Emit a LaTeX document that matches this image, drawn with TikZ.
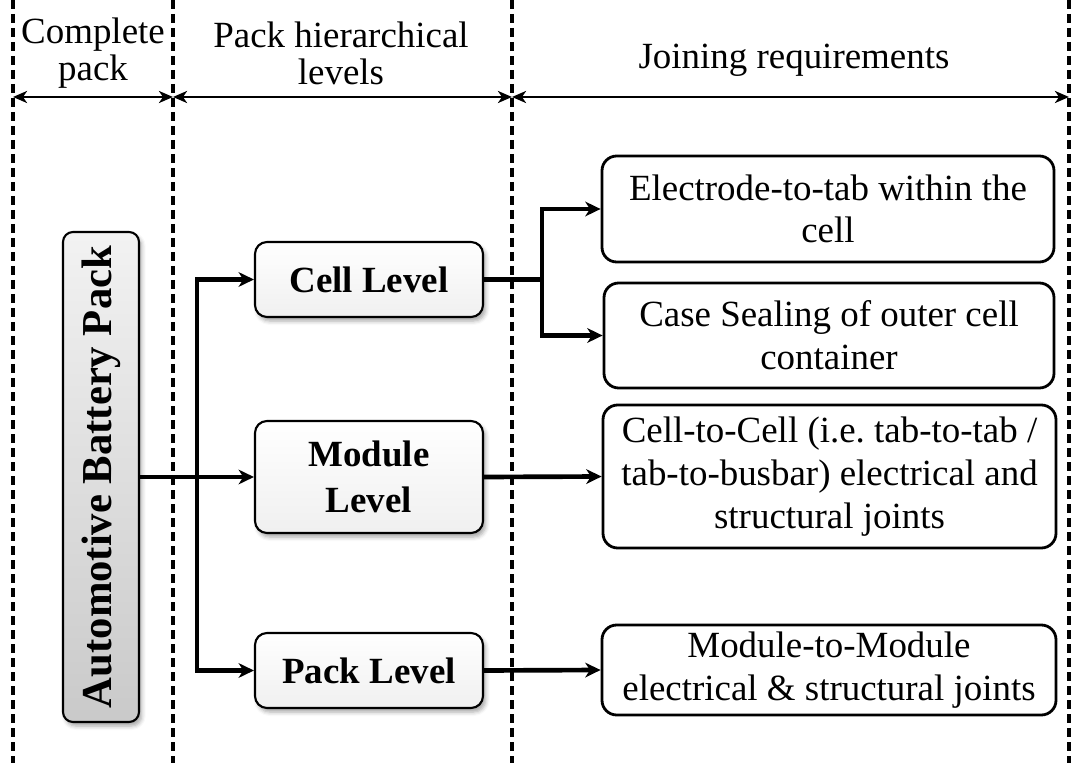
\documentclass[tikz,border=0pt]{standalone}
\usepackage{fontspec}
\setmainfont{Liberation Serif}
\usetikzlibrary{arrows.meta,shadows.blur}
\begin{document}
\begin{tikzpicture}[x=0.75pt,y=-0.75pt,
  sep/.style={line width=2.6pt, dash pattern=on 7pt off 3.5pt},
  hdr/.style={line width=1.9pt, {Stealth[length=10.5pt,width=9pt,inset=3pt]}-{Stealth[length=10.5pt,width=9pt,inset=3pt]}},
  hdrtext/.style={font=\fontsize{27.7}{27.7}\selectfont, align=center, inner sep=0pt},
  conn/.style={line width=3.5pt, -{Stealth[length=11.5pt,width=11pt,inset=3.5pt]}},
  trunk/.style={line width=3.5pt},
  myshadow/.style={blur shadow={shadow xshift=2pt, shadow yshift=-3pt, shadow blur radius=3pt, shadow opacity=35}},
  packbox/.style={draw, line width=1.6pt, rounded corners=7.5pt, top color=gray!10, bottom color=gray!42, minimum width=57pt, minimum height=367.5pt, inner sep=0pt, myshadow},
  levelbox/.style={draw, line width=1.6pt, rounded corners=9pt, top color=white, bottom color=gray!12, minimum width=171pt, inner sep=0pt, align=center, font=\bfseries\fontsize{27.7}{34}\selectfont, myshadow},
  reqbox/.style={draw, line width=2.1pt, rounded corners=11pt, fill=white, inner sep=0pt, align=center, font=\fontsize{27.7}{32}\selectfont},
]
\useasboundingbox (0,0) rectangle (1076,763);
% separators
\coordinate (s1t) at (13,0);   \coordinate (s1b) at (13,763);
\coordinate (s2t) at (173,0);  \coordinate (s2b) at (173,763);
\coordinate (s3t) at (512,0);  \coordinate (s3b) at (512,763);
\coordinate (s4t) at (1069,0); \coordinate (s4b) at (1069,763);
\draw[sep] (s1t) -- (s1b);
\draw[sep] (s2t) -- (s2b);
\draw[sep] (s3t) -- (s3b);
\draw[sep] (s4t) -- (s4b);
% header
\coordinate (h1) at (13,97);
\coordinate (h2) at (173,97);
\coordinate (h3) at (512,97);
\coordinate (h4) at (1069,97);
\draw[hdr] (h1) -- (h2);
\draw[hdr] (h2) -- (h3);
\draw[hdr] (h3) -- (h4);
\node[hdrtext] (t1) at (93,53) {Complete\\pack};
\node[hdrtext] (t2) at (341,53) {Pack hierarchical\\levels};
\node[hdrtext] (t3) at (794,60) {Joining requirements};
% nodes
\node[packbox] (pack) at (101,477) {\rotatebox{90}{\bfseries\fontsize{32}{32}\selectfont Automotive Battery Pack}};
\node[levelbox, minimum height=56.25pt] (cell) at (369,279.5) {Cell Level};
\node[levelbox, minimum height=84pt] (module) at (369,477) {Module\\Level};
\node[levelbox, minimum height=56.25pt] (packlvl) at (369,670.5) {Pack Level};
\node[reqbox, minimum width=339pt, minimum height=79.5pt] (elec) at (828,209) {Electrode-to-tab within the\\cell};
\node[reqbox, minimum width=337.5pt, minimum height=78.75pt] (case) at (829,335.5) {Case Sealing of outer cell\\container};
\node[reqbox, minimum width=339.75pt, minimum height=107.25pt] (c2c) at (829.5,476.5) {Cell-to-Cell (i.e.\ tab-to-tab /\\tab-to-busbar) electrical and\\structural joints};
\node[reqbox, minimum width=340.5pt, minimum height=67.5pt] (m2m) at (829,670) {Module-to-Module\\electrical \& structural joints};
% connectors
\coordinate (tr) at (197,477);
\coordinate (j1) at (542,279.5);
\draw[conn] (pack.east) -- (module.west);
\draw[conn] (tr) |- (cell.west);
\draw[conn] (tr) |- (packlvl.west);
\draw[trunk] (cell.east) -- (j1);
\draw[conn] (j1) |- (elec.west);
\draw[conn] (j1) |- (case.west);
\draw[conn] (module.east) -- (c2c.west);
\draw[conn] (packlvl.east) -- (m2m.west);
\end{tikzpicture}
\end{document}
